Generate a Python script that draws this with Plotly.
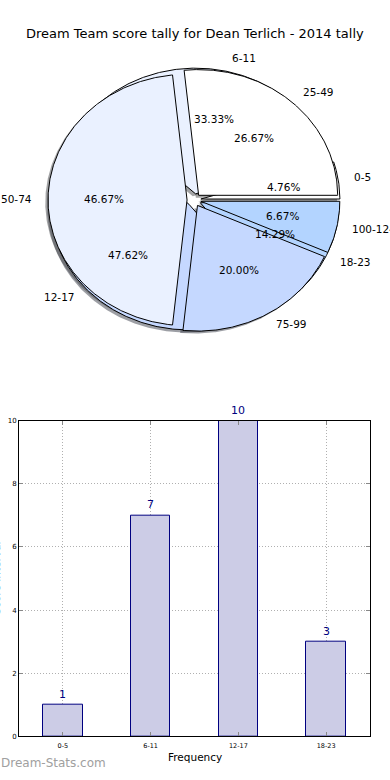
import numpy as np
import plotly.graph_objects as go

# ---- data ----
title = "Dream Team score tally for Dean Terlich - 2014 tally"
pie_a_labels = ["0-5", "6-11", "12-17", "18-23"]
pie_a_values = [1, 7, 10, 3]
pie_b_labels = ["25-49", "50-74", "75-99", "100-124"]
pie_b_values = [4, 7, 3, 1]
pie_colors = ["#ffffff", "#eaf1ff", "#c5d8ff", "#b3d4ff"]

bar_categories = ["0-5", "6-11", "12-17", "18-23"]
bar_values = [1, 7, 10, 3]
y_ticks = [0, 2, 4, 6, 8, 10]

EXPLODE = 0.05
W, H = 390, 780

fig = go.Figure()


def hex_rgb(h):
    h = h.lstrip("#")
    return [int(h[i:i + 2], 16) for i in (0, 2, 4)]


def wedges(values):
    total = float(sum(values))
    out = []
    start = 0.0
    for v in values:
        frac = v / total
        t1 = start * 360.0
        t2 = (start + frac) * 360.0
        mid = np.deg2rad((t1 + t2) / 2)
        cx, cy = EXPLODE * np.cos(mid), EXPLODE * np.sin(mid)
        out.append((t1, t2, mid, cx, cy, frac))
        start += frac
    return out


pies = [(pie_a_labels, pie_a_values), (pie_b_labels, pie_b_values)]
geo = [wedges(v) for _, v in pies]


def poly(t1, t2, cx, cy, dx=0.0, dy=0.0):
    th = np.deg2rad(np.linspace(t1, t2, max(int(abs(t2 - t1)) * 2, 8)))
    xs = np.concatenate([[cx], cx + np.cos(th), [cx]]) + dx
    ys = np.concatenate([[cy], cy + np.sin(th), [cy]]) + dy
    return xs, ys


# shadows first (below all wedges)
for p, g in enumerate(geo):
    for i, (t1, t2, mid, cx, cy, frac) in enumerate(g):
        r, gg, b = hex_rgb(pie_colors[i % len(pie_colors)])
        xs, ys = poly(t1, t2, cx, cy, -0.02, -0.02)
        fig.add_trace(go.Scatter(
            x=xs, y=ys, xaxis="x2", yaxis="y2", mode="lines", fill="toself",
            fillcolor=f"rgba({int(r*0.3)},{int(gg*0.3)},{int(b*0.3)},0.5)",
            line=dict(width=0), hoverinfo="skip", showlegend=False))

# wedges
for p, g in enumerate(geo):
    for i, (t1, t2, mid, cx, cy, frac) in enumerate(g):
        xs, ys = poly(t1, t2, cx, cy)
        fig.add_trace(go.Scatter(
            x=xs, y=ys, xaxis="x2", yaxis="y2", mode="lines", fill="toself",
            fillcolor=pie_colors[i % len(pie_colors)],
            line=dict(color="black", width=1), hoverinfo="skip", showlegend=False))

annotations = []
for p, g in enumerate(geo):
    labels = pies[p][0]
    for i, (t1, t2, mid, cx, cy, frac) in enumerate(g):
        lx = cx + 1.1 * np.cos(mid)
        ly = cy + 1.1 * np.sin(mid)
        annotations.append(dict(
            x=lx, y=ly, xref="x2", yref="y2", text=labels[i], showarrow=False,
            xanchor="left" if lx > 0 else "right", yanchor="middle", yshift=1,
            font=dict(family="DejaVu Sans", size=10.5, color="black")))
        px_ = cx + 0.6 * np.cos(mid)
        py_ = cy + 0.6 * np.sin(mid)
        annotations.append(dict(
            x=px_, y=py_, xref="x2", yref="y2", text=f"{frac*100:.2f}%", showarrow=False,
            xanchor="center", yanchor="middle", yshift=1,
            font=dict(family="DejaVu Sans", size=10.5, color="black")))

# pie axes scaling (elliptical pie)
cxp, cyp, rx, ry = 194, 198, 139, 127
pie_dom_h = 390  # top half of the figure
x2_range = [-cxp / rx, (W - cxp) / rx]
y2_max = cyp / ry
y2_range = [y2_max - pie_dom_h / ry, y2_max]

# ---- bar chart ----
fig.add_trace(go.Bar(
    x=bar_categories, y=bar_values, width=0.45,
    marker=dict(color="#ccccE6", line=dict(color="#000080", width=1)),
    hoverinfo="skip", showlegend=False, xaxis="x", yaxis="y"))

for c, v in zip(bar_categories, bar_values):
    annotations.append(dict(
        x=c, y=v, xref="x", yref="y", text=str(v), showarrow=False,
        yanchor="bottom", yshift=2,
        font=dict(family="DejaVu Sans", size=11, color="#000080")))

annotations.append(dict(
    x=0.5, y=(780 - 761) / 780, xref="paper", yref="paper", text="Frequency",
    showarrow=False, xanchor="center", yanchor="middle",
    font=dict(family="DejaVu Sans", size=10.5, color="black")))
annotations.append(dict(
    x=0, y=(780 - 580) / 780, xref="paper", yref="paper", text="Score Interval",
    showarrow=False, xanchor="right", yanchor="middle", xshift=4.5, textangle=-90,
    font=dict(family="DejaVu Sans", size=10.5, color="black")))
annotations.append(dict(
    x=0, y=(780 - 767) / 780, xref="paper", yref="paper", text="Dream-Stats.com",
    showarrow=False, xanchor="left", yanchor="middle", xshift=-1,
    font=dict(family="DejaVu Sans", size=12, color="#a0a0a0")))
annotations.append(dict(
    x=0.5, y=(780 - 30) / 780, xref="paper", yref="paper", text=title,
    showarrow=False, xanchor="center", yanchor="middle",
    font=dict(family="DejaVu Sans", size=13, color="black")))

grid = dict(showgrid=True, gridcolor="#b0b0b0", gridwidth=1, griddash="1px,2px")

fig.update_layout(
    width=W, height=H,
    margin=dict(l=0, r=0, t=0, b=0),
    paper_bgcolor="white", plot_bgcolor="white",
    showlegend=False,
    bargap=0,
    annotations=annotations,
    xaxis=dict(domain=[19 / W, 370 / W], range=[-0.5, 3.5], type="category",
               showline=True, linecolor="black", linewidth=1, mirror="ticks",
               ticks="inside", ticklen=4, tickcolor="#888888",
               ticklabelstandoff=3,
               tickfont=dict(family="DejaVu Sans", size=6.5, color="black"),
               zeroline=False, fixedrange=True, **grid),
    yaxis=dict(domain=[(780 - 740) / 780, (780 - 421) / 780], range=[0, 10],
               tickvals=y_ticks,
               showline=True, linecolor="black", linewidth=1, mirror="ticks",
               ticks="inside", ticklen=4, tickcolor="#888888",
               tickfont=dict(family="DejaVu Sans", size=7, color="black"),
               zeroline=False, fixedrange=True, **grid),
    xaxis2=dict(domain=[0, 1], range=x2_range, visible=False, anchor="y2",
                showgrid=False, zeroline=False),
    yaxis2=dict(domain=[0.5, 1], range=y2_range, visible=False, anchor="x2",
                showgrid=False, zeroline=False),
)

fig.write_html(
    "out.html",
    config={"displayModeBar": False},
    post_script="document.body.style.margin='0';document.body.style.padding='0';"
                "document.body.style.overflow='hidden';",
)
